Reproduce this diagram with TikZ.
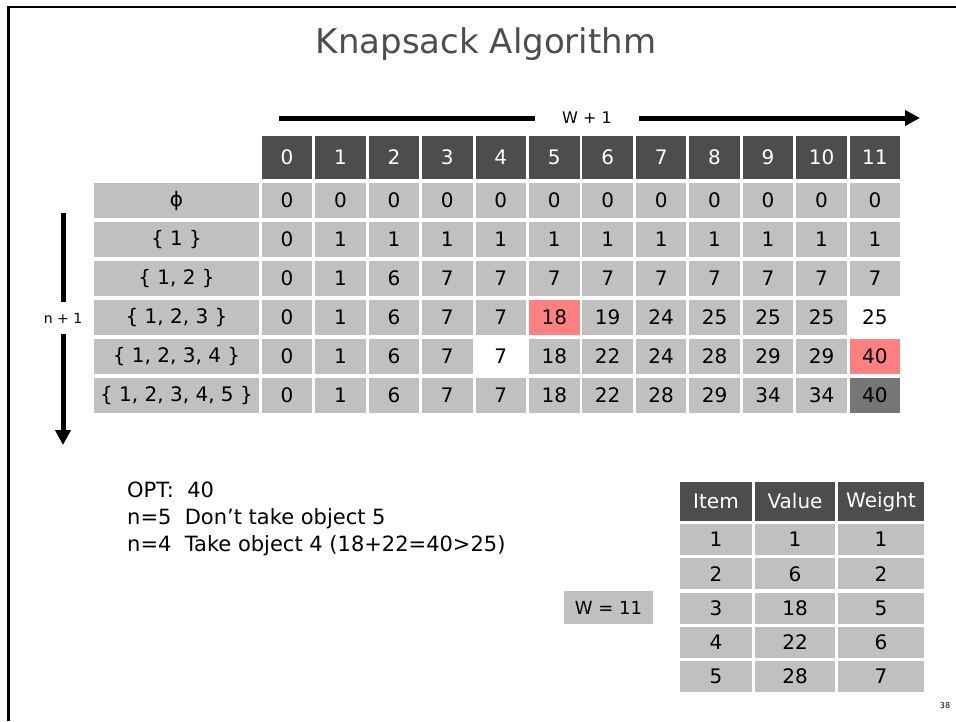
\documentclass[tikz,border=0pt]{standalone}
\usepackage{fontspec}
\setmainfont{DejaVu Sans}
\usetikzlibrary{arrows.meta}
\definecolor{hdr}{RGB}{77,77,77}
\definecolor{cellg}{RGB}{192,192,192}
\definecolor{hl}{RGB}{255,128,128}
\definecolor{dk}{RGB}{118,118,118}
\begin{document}
\begin{tikzpicture}[x=1pt,y=-1pt,
  base/.style={inner sep=0pt, font=\fontsize{20}{24}\selectfont},
  cell/.style={base, fill=cellg, minimum width=50.5pt, minimum height=35.5pt},
  hcell/.style={cell, fill=hdr, text=white, minimum height=43pt},
  lab/.style={cell, minimum width=165pt},
  icell/.style={base, fill=cellg, minimum height=31pt},
  ihcell/.style={icell, fill=hdr, text=white, minimum height=39pt},
  thk/.style={line width=5pt},
  arr/.style={thk, -{Triangle[length=15pt,width=15pt]}},
  note/.style={inner sep=0pt, anchor=base west, font=\fontsize{21}{24}\selectfont},
  c-3-5/.style={fill=hl}, c-3-11/.style={fill=white}, c-4-4/.style={fill=white},
  c-4-11/.style={fill=hl}, c-5-11/.style={fill=dk}]
\useasboundingbox (0,0) rectangle (956,721);
% frame
\draw[line width=2.5pt] (8.5,721) -- (8.5,7) -- (956,7);
% title
\node[inner sep=0pt, anchor=base, text=hdr, font=\fontsize{34}{40}\selectfont] (title) at (486,53) {Knapsack Algorithm};
% horizontal arrow
\coordinate (hs) at (279,118);
\coordinate (he) at (920,118);
\node[inner sep=0pt, minimum width=104pt, font=\fontsize{16}{18}\selectfont] (w1) at (587,118) {W + 1};
\draw[thk] (hs) -- (w1.west);
\draw[arr] (w1.east) -- (he);
% vertical arrow
\coordinate (vs) at (63,213);
\coordinate (ve) at (63,445);
\node[inner sep=0pt, minimum height=32pt, font=\fontsize{14}{17}\selectfont] (n1) at (63,318) {n + 1};
\draw[thk] (vs) -- (n1.north);
\draw[arr] (n1.south) -- (ve);
% header row
\foreach \c in {0,...,11} {
  \node[hcell] (h\c) at ({287+53.45*\c},157.5) {\c};
}
% row labels
\node[lab] (l0) at (176.5,200.5) {ϕ};
\node[lab] (l1) at (176.5,239.5) {\{ 1 \}};
\node[lab] (l2) at (176.5,278.5) {\{ 1, 2 \}};
\node[lab] (l3) at (176.5,317.5) {\{ 1, 2, 3 \}};
\node[lab] (l4) at (176.5,356.5) {\{ 1, 2, 3, 4 \}};
\node[lab] (l5) at (176.5,395.5) {\{ 1, 2, 3, 4, 5 \}};
% table body
\foreach \r/\vals in {
  0/{0,0,0,0,0,0,0,0,0,0,0,0},
  1/{0,1,1,1,1,1,1,1,1,1,1,1},
  2/{0,1,6,7,7,7,7,7,7,7,7,7},
  3/{0,1,6,7,7,18,19,24,25,25,25,25},
  4/{0,1,6,7,7,18,22,24,28,29,29,40},
  5/{0,1,6,7,7,18,22,28,29,34,34,40}} {
  \foreach \v [count=\c from 0] in \vals {
    \node[cell, c-\r-\c/.try] (c\r-\c) at ({287+53.45*\c},{200.5+39*\r}) {\v};
  }
}
% notes
\node[note] (opt) at (127,497) {OPT:\ \ 40};
\node[note] (n5) at (127,524) {n=5\ \ Don’t take object 5};
\node[note] (n4) at (127,551) {n=4\ \ Take object 4 (18+22=40>25)};
% W box
\node[base, fill=cellg, minimum width=89pt, minimum height=33pt, font=\fontsize{18}{22}\selectfont] (wbox) at (608.5,607.5) {W = 11};
% item table
\node[ihcell, minimum width=72pt] (ih1) at (716,501.5) {Item};
\node[ihcell, minimum width=80pt] (ih2) at (795,501.5) {Value};
\node[ihcell, minimum width=86pt] (ih3) at (881,501.5) {Weight};
\foreach \i/\val/\wt [count=\k from 0] in {1/1/1, 2/6/2, 3/18/5, 4/22/6, 5/28/7} {
  \node[icell, minimum width=72pt] (it\i) at (716,{539.5+34.25*\k}) {\i};
  \node[icell, minimum width=80pt] (iv\i) at (795,{539.5+34.25*\k}) {\val};
  \node[icell, minimum width=86pt] (iw\i) at (881,{539.5+34.25*\k}) {\wt};
}
% page number
\node[inner sep=0pt, font=\fontsize{8}{10}\selectfont] (pg) at (945,706) {38};
\end{tikzpicture}
\end{document}
